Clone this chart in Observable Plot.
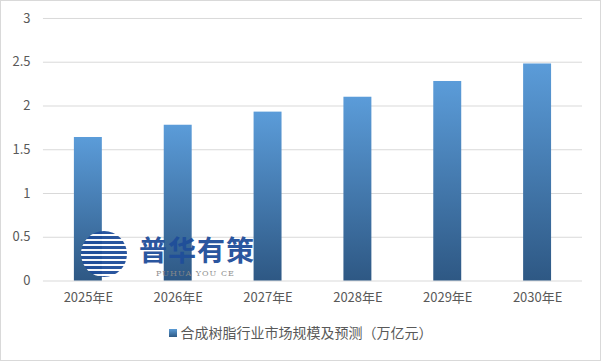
<!DOCTYPE html>
<html><head><meta charset="utf-8">
<script src="https://cdn.jsdelivr.net/npm/d3@7"></script>
<script src="https://cdn.jsdelivr.net/npm/@observablehq/plot@0.6"></script>
<style>
html,body{margin:0;padding:0;background:#fff;}
#wrap{position:relative;width:599px;height:359px;border:1px solid #d9d9d9;overflow:hidden;font-family:"Noto Sans CJK SC","Noto Sans",sans-serif;}
#chart{position:absolute;left:-1px;top:-1px;}
#legend{position:absolute;left:0;width:599px;top:321px;text-align:center;font-size:14px;color:#595959;}
#legend .sw{display:inline-block;width:8px;height:8px;background:linear-gradient(#5b9bd5,#2f5a85);margin-right:4px;vertical-align:1px;}
#wm{position:absolute;left:80px;top:228px;color:#1f4e9a;opacity:0.95;}
#wm .cn{position:absolute;left:58px;top:0px;font-size:28px;font-weight:bold;letter-spacing:1px;white-space:nowrap;}
#wm .en{position:absolute;left:75px;top:40px;font-size:8px;color:#8a8a8a;font-family:"DejaVu Serif",serif;white-space:nowrap;letter-spacing:1px;}
#wm .logo{position:absolute;left:0;top:2px;width:46px;height:46px;border-radius:50%;background:repeating-linear-gradient(#1f4e9a 0 3px,#fff 3px 5px);}
</style></head>
<body>
<div id="wrap">
<div id="chart"></div>
<div id="wm"><div class="logo"></div><div class="cn">普华有策</div><div class="en">PUHUA YOU CE</div></div>
<div id="legend"><span class="sw"></span>合成树脂行业市场规模及预测（万亿元）</div>
</div>
<script>
const years = ["2025年E","2026年E","2027年E","2028年E","2029年E","2030年E"];
const values = [1.64, 1.78, 1.93, 2.10, 2.28, 2.48];
const yTicks = [0, 0.5, 1, 1.5, 2, 2.5, 3];
const seriesName = "合成树脂行业市场规模及预测（万亿元）";

const data = years.map((y, i) => ({year: y, value: values[i]}));

const chart = Plot.plot({
  width: 601,
  height: 310,
  marginTop: 18,
  marginBottom: 29,
  marginLeft: 43,
  marginRight: 18,
  style: {fontFamily: '"Noto Sans CJK SC","Noto Sans",sans-serif', fontSize: "13px", color: "#595959", background: "transparent"},
  x: {domain: years, paddingInner: 0.69, paddingOuter: 0.345, label: null, tickSize: 0, tickPadding: 12},
  y: {domain: [0, 3], ticks: yTicks, label: null, tickSize: 0, tickPadding: 13, tickFormat: d => String(d)},
  marks: [
    Plot.gridY(yTicks, {stroke: "#d9d9d9", strokeOpacity: 1, strokeWidth: 1}),
    Plot.barY(data, {x: "year", y: "value", fill: "url(#barGrad)"})
  ]
});
const ns = "http://www.w3.org/2000/svg";
const defs = document.createElementNS(ns, "defs");
defs.innerHTML = '<linearGradient id="barGrad" x1="0" y1="0" x2="0" y2="1"><stop offset="0" stop-color="#5b9cd9"/><stop offset="1" stop-color="#2e5884"/></linearGradient>';
chart.insertBefore(defs, chart.firstChild);
document.getElementById("chart").appendChild(chart);
</script>
</body></html>
